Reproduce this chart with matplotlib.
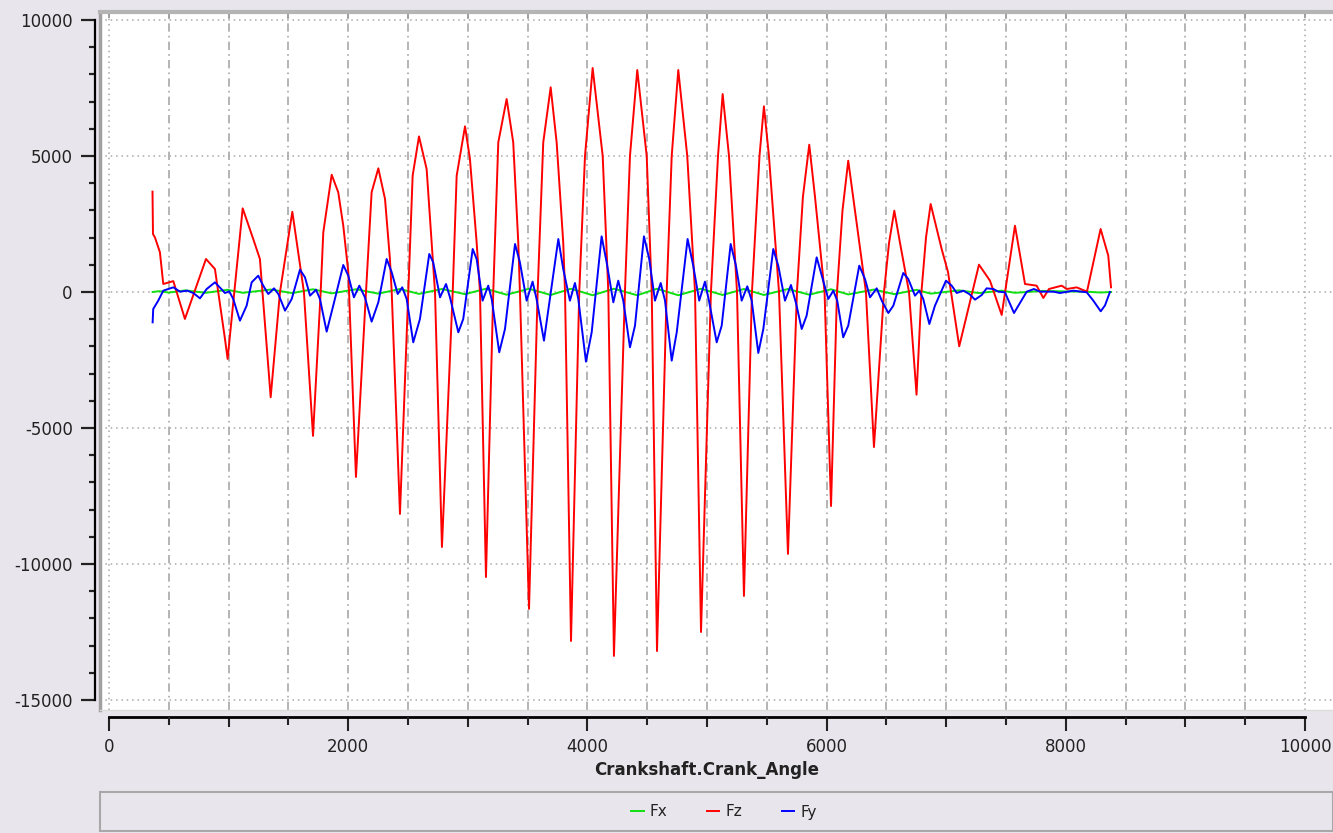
import numpy as np
import matplotlib
matplotlib.use("Agg")
import matplotlib.pyplot as plt
from matplotlib.patches import Rectangle
from matplotlib.ticker import MultipleLocator, FixedLocator

# ---------------- data ----------------
fz_x = [364, 368, 385, 426, 454, 538, 635, 811, 886, 970, 992, 1118, 1206, 1262, 1352,
        1430, 1533, 1630, 1706,
        1770, 1792, 1862, 1917, 1959, 2001, 2065,
        2149, 2196, 2252, 2308, 2349, 2364, 2433,
        2502, 2539, 2592, 2656, 2698, 2726, 2784,
        2874, 2907, 2977, 3018, 3074, 3102, 3152,
        3213, 3255, 3325, 3380, 3422, 3436, 3512,
        3584, 3631, 3693, 3743, 3798, 3813, 3863,
        3932, 3980, 4044, 4128, 4175, 4222,
        4314, 4356, 4417, 4496, 4538, 4582,
        4663, 4705, 4760, 4835, 4900, 4950,
        5033, 5092, 5131, 5184, 5251, 5309,
        5376, 5439, 5476, 5518, 5602, 5677,
        5752, 5802, 5855, 5903, 5983, 6037,
        6087, 6133, 6181, 6237, 6329, 6396,
        6480, 6522, 6566, 6614, 6689, 6752,
        6793, 6831, 6870, 6962, 7015, 7109, 7274, 7366, 7464, 7575,
        7659, 7756, 7812, 7859, 7966, 8007, 8091, 8177, 8291, 8355, 8378]
fz_y = [3690, 2130, 2000, 1460, 294, 400, -990, 1213, 845, -1730, -2460, 3075, 1950, 1213, -3870,
        0, 2950, 0, -5290,
        0, 2195, 4310, 3665, 2437, 735, -6800,
        0, 3665, 4546, 3420, 1213, 0, -8160,
        0, 4275, 5720, 4520, 1826, 0, -9375,
        0, 4275, 6090, 4890, 1826, 0, -10480,
        0, 5500, 7095, 5500, 1826, 0, -11650,
        0, 5500, 7525, 5500, 1826, 0, -12830,
        0, 5000, 8234, 5000, 0, -13380,
        0, 5000, 8160, 5000, 0, -13200,
        0, 5000, 8160, 5000, 0, -12500,
        0, 5000, 7278, 5000, 0, -11175,
        0, 5000, 6826, 5000, 0, -9630,
        0, 3500, 5415, 3500, 0, -7870,
        0, 3000, 4827, 3000, 0, -5700,
        0, 1800, 2990, 1800, 0, -3775,
        0, 2000, 3235, 1580, 735, -1996, 1005, 416, -845, 2437,
        294, 233, -220, 110, 233, 110, 170, 12, 2316, 1335, 172]

fy_x = [365, 370, 412, 454, 538, 594, 655, 705, 761, 817, 886, 934, 970, 1006, 1039, 1095,
        1151, 1193, 1248, 1290, 1332, 1380, 1416, 1472, 1528, 1597, 1639, 1681, 1731, 1764,
        1820, 1875, 1959, 2001, 2048, 2093, 2140, 2196, 2252, 2322, 2364, 2414, 2452, 2489,
        2544, 2600, 2678, 2711, 2768, 2818, 2851, 2921, 2962, 3041, 3074, 3124, 3171, 3200,
        3263, 3311, 3395, 3436, 3492, 3542, 3575, 3637, 3757, 3798, 3854, 3896, 3924, 3988,
        4036, 4119, 4161, 4217, 4258, 4300, 4356, 4398, 4473, 4517, 4565, 4613, 4649, 4705,
        4747, 4838, 4885, 4935, 4983, 5019, 5081, 5123, 5198, 5242, 5290, 5337, 5374, 5429,
        5471, 5554, 5596, 5652, 5702, 5744, 5792, 5833, 5917, 5967, 6014, 6056, 6089, 6139,
        6181, 6273, 6321, 6363, 6419, 6461, 6516, 6558, 6641, 6683, 6739, 6775, 6808, 6859,
        6906, 6998, 7046, 7088, 7143, 7193, 7241, 7297, 7338, 7394, 7436, 7491, 7567, 7617,
        7673, 7734, 7784, 7895, 7951, 8063, 8175, 8230, 8292, 8328, 8369]
fy_y = [-1115, -625, -318, 49, 172, 12, 49, -37, -233, 110, 355, 135, -37, 24, -257, -1054,
        -503, 355, 600, 233, -74, 135, -74, -686, -257, 821, 539, -135, 86, -257,
        -1458, -503, 993, 600, -196, 233, -196, -1090, -380, 1213, 723, -74, 172, -257,
        -1850, -993, 1397, 1090, -196, 294, -196, -1482, -993, 1580, 1213, -318, 233, -257,
        -2217, -1360, 1765, 1090, -318, 380, -257, -1789, 1948, 845, -318, 331, -257, -2561,
        -1482, 2046, 1090, -380, 416, -318, -2034, -1237, 2046, 1213, -318, 331, -318, -2524,
        -1482, 1948, 968, -318, 380, -380, -1850, -1237, 1765, 968, -318, 208, -318, -2242,
        -1360, 1580, 968, -318, 257, -404, -1360, -870, 1274, 478, -257, 49, -318, -1666,
        -1237, 968, 478, -196, 135, -318, -772, -503, 698, 478, -135, 49, -257, -1176,
        -503, 416, 233, -37, 49, -74, -282, -110, 135, 110, 12, -12, -772, -404,
        12, 110, 12, 12, -37, 49, -12, -318, -710, -490, 0]

fx_x = [365, 420, 500, 640, 810, 990, 1120, 1352, 1533, 1706, 1862, 2065, 2252, 2433, 2592,
        2784, 2977, 3152, 3325, 3512, 3693, 3863, 4044, 4222, 4417, 4582, 4760, 4950, 5131,
        5309, 5476, 5677, 5855, 6037, 6181, 6396, 6566, 6752, 6870, 7109, 7274, 7464, 7575,
        7812, 8007, 8177, 8291, 8378]
fx_y = [0, 30, -20, 60, -30, 80, -30, 90, -40, 100, -50, 100, -60, 110, -70,
        110, -80, 120, -100, 120, -110, 120, -120, 120, -120, 120, -120, 120, -110,
        110, -110, 110, -100, 100, -90, 90, -80, 80, -60, 60, -40, 50, -30,
        40, 20, 10, -20, 0]

series_names = ["Fx", "Fz", "Fy"]
series_colors = ["#10e010", "#ff0000", "#0000ff"]
x_label = "Crankshaft.Crank_Angle"

# ---------------- layout ----------------
BG = "#e8e6ec"
W, H = 1333, 833
plt.rcParams['font.family'] = ['DejaVu Sans']
plt.rcParams['axes.unicode_minus'] = False
fig = plt.figure(figsize=(W / 100, H / 100), dpi=100, facecolor=BG)

XLIM = (-75, 10234)
YLIM = (-15368, 10294)

ax = fig.add_axes([100 / W, 1 - 710 / H, 1233 / W, 698 / H])
ax.set_facecolor("white")
ax.set_xlim(*XLIM)
ax.set_ylim(*YLIM)

# grid
for yv in np.arange(-15000, 10001, 5000):
    ax.axhline(yv, color="#a8a8a8", lw=1.1, ls=(0, (1, 2.5)), zorder=1)
for xv in np.arange(0, 10001, 500):
    if xv in (0, 10000):
        ax.axvline(xv, color="#a8a8a8", lw=1.1, ls=(0, (1, 2.5)), zorder=1)
    else:
        ax.axvline(xv, color="#a8a8a8", lw=1.2, ls=(0, (5, 2.5, 1, 2.5)), zorder=1)

ax.xaxis.set_major_locator(MultipleLocator(500))
ax.tick_params(axis="x", bottom=False, labelbottom=False, top=True, direction="in",
               length=4, width=1.2, color="#909090")
ax.tick_params(axis="y", left=False, labelleft=False)
ax.spines["right"].set_visible(False)
ax.spines["left"].set_color("#a0a0a0")
ax.spines["left"].set_linewidth(2.5)
ax.spines["top"].set_color("#b4b4b4")
ax.spines["top"].set_linewidth(3)
ax.spines["bottom"].set_color("#dcdcdc")
ax.spines["bottom"].set_linewidth(1)

lines = []
for xs, ys, name, col in zip([fx_x, fz_x, fy_x], [fx_y, fz_y, fy_y], series_names, series_colors):
    ln, = ax.plot(xs, ys, color=col, lw=1.4, label=name, zorder=3)
    lines.append(ln)

# y axis (separate black axis left of the frame)
ay = fig.add_axes([95 / W, 1 - 710 / H, 2 / W, 698 / H])
ay.patch.set_visible(False)
ay.set_ylim(*YLIM)
for s in ("top", "right", "bottom"):
    ay.spines[s].set_visible(False)
ay.spines["left"].set_linewidth(1.6)
ay.spines["left"].set_bounds(-15000, 10000)
ay.set_xticks([])
ay.yaxis.set_major_locator(FixedLocator(np.arange(-15000, 10001, 5000)))
ay.yaxis.set_minor_locator(FixedLocator([v for v in np.arange(-15000, 10001, 1000) if v % 5000]))
ay.tick_params(axis="y", which="major", length=10, width=1.6, direction="out",
               labelsize=12, pad=6, colors="#222222")
ay.tick_params(axis="y", which="minor", length=4, width=1.6, direction="out", color="#222222")

# x axis (separate black axis below the frame)
axx = fig.add_axes([100 / W, 1 - 717 / H, 1233 / W, 1 / H])
axx.patch.set_visible(False)
axx.set_xlim(*XLIM)
for s in ("top", "right", "left"):
    axx.spines[s].set_visible(False)
axx.spines["bottom"].set_linewidth(2)
axx.spines["bottom"].set_bounds(0, 10000)
axx.set_yticks([])
axx.xaxis.set_major_locator(FixedLocator(np.arange(0, 10001, 2000)))
axx.xaxis.set_minor_locator(FixedLocator(np.arange(1000, 10000, 2000)))
axx.tick_params(axis="x", which="major", length=10, width=1.5, direction="out",
                labelsize=12, pad=5, colors="#222222")
axx.tick_params(axis="x", which="minor", length=7.5, width=1.5, direction="out", color="#222222")

axx2 = fig.add_axes([100 / W, 1 - 717 / H, 1233 / W, 1 / H])
axx2.patch.set_visible(False)
axx2.set_xlim(*XLIM)
for s in axx2.spines.values():
    s.set_visible(False)
axx2.set_yticks([])
axx2.xaxis.set_major_locator(FixedLocator(np.arange(500, 10000, 1000)))
axx2.tick_params(axis="x", which="major", length=5.5, width=1.5, direction="out",
                 labelbottom=False, color="#222222")

fig.text(707 / W, 1 - 770 / H, x_label, ha="center", va="center",
         fontsize=12, fontweight="bold", color="#222222")

# legend box
fig.patches.append(Rectangle((100 / W, 1 - 831 / H), 1233 / W, 39 / H, transform=fig.transFigure,
                             facecolor=BG, edgecolor="#a8a8a8", lw=1.5, zorder=0))
fig.legend(handles=lines, labels=series_names, loc="center", bbox_to_anchor=(724 / W, 1 - 812 / H),
           ncol=3, frameon=False, fontsize=11, handlelength=0.8, handletextpad=0.4,
           columnspacing=2.6, labelcolor="#222222")

fig.savefig("out.png", dpi=100, facecolor=BG)
